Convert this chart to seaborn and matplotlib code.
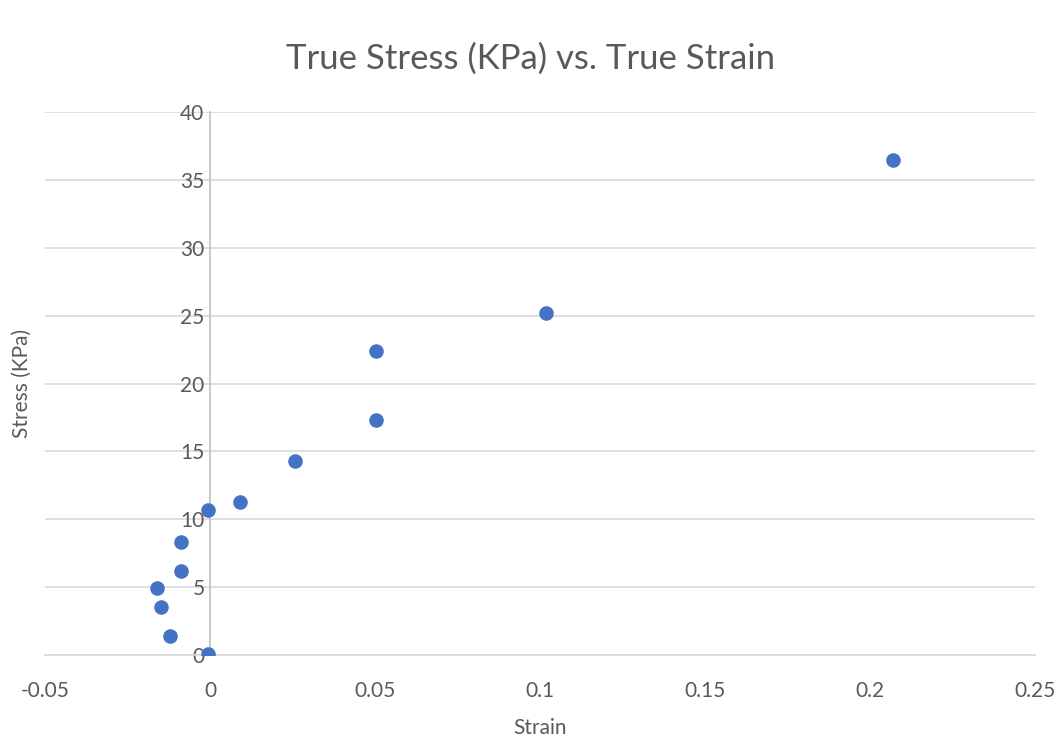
import matplotlib
matplotlib.use("Agg")
import matplotlib.pyplot as plt
import pandas as pd
import seaborn as sns

strain = [0.207, 0.1018, 0.0503, 0.0503, 0.0258, 0.0091, -0.0006,
          -0.0088, -0.0088, -0.0160, -0.0148, -0.0121, -0.0006]
stress = [36.5, 25.2, 22.4, 17.3, 14.3, 11.3, 10.7,
          8.3, 6.2, 4.9, 3.5, 1.4, 0.07]

x_ticks = [-0.05, 0, 0.05, 0.1, 0.15, 0.2, 0.25]
x_tick_labels = ["-0.05", "0", "0.05", "0.1", "0.15", "0.2", "0.25"]
y_ticks = [0, 5, 10, 15, 20, 25, 30, 35, 40]

df = pd.DataFrame({"Strain": strain, "Stress": stress})

sns.set_style("white")
plt.rcParams["font.family"] = ["Lato", "DejaVu Sans"]
text_color = "#595959"
grid_color = "#d9d9d9"

fig = plt.figure(figsize=(10.62, 7.42), dpi=100)
ax = fig.add_axes([0.0424, 0.1173, 0.9322, 0.7317])

sns.scatterplot(data=df, x="Strain", y="Stress", ax=ax, color="#4472C4",
                s=110, linewidth=0, zorder=3)

ax.set_xlim(-0.05, 0.25)
ax.set_ylim(0, 40)
ax.set_xticks(x_ticks)
ax.set_xticklabels(x_tick_labels)
ax.set_yticks(y_ticks)
ax.yaxis.grid(True, color=grid_color, linewidth=1.2)
ax.xaxis.grid(False)

for side in ["top", "right"]:
    ax.spines[side].set_visible(False)
ax.spines["left"].set_position(("data", 0))
ax.spines["left"].set_color("#bfbfbf")
ax.spines["left"].set_linewidth(1.2)
ax.spines["bottom"].set_color(grid_color)
ax.spines["bottom"].set_linewidth(1.2)

ax.tick_params(axis="both", length=0, labelsize=15, labelcolor=text_color)
ax.tick_params(axis="x", pad=19)
ax.tick_params(axis="y", pad=4)

ax.set_xlabel("Strain", fontsize=15, color=text_color, labelpad=12)
ax.set_ylabel("")
fig.text(0.021, 0.4832, "Stress (KPa)", rotation=90, fontsize=15,
         color=text_color, ha="center", va="center")

fig.suptitle("True Stress (KPa) vs. True Strain", fontsize=25,
             color=text_color, x=0.5, y=0.943)

fig.savefig("out.png", dpi=100)
